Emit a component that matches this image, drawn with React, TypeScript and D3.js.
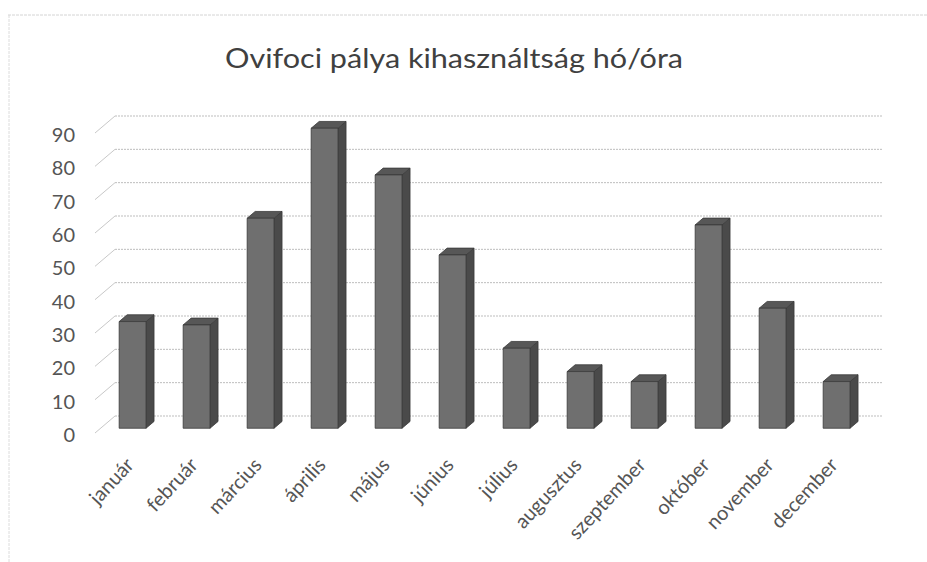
import React from "react";
import * as d3 from "d3";

const months = ["január", "február", "március", "április", "május", "június", "július", "augusztus", "szeptember", "október", "november", "december"];
const hours = [32, 31, 63, 90, 76, 52, 24, 17, 14, 61, 36, 14];
const yTicks = [0, 10, 20, 30, 40, 50, 60, 70, 80, 90];
const title = "Ovifoci pálya kihasználtság hó/óra";

const W = 927;
const H = 562;
const FONT = "Lato, 'Open Sans', sans-serif";

export default function App() {
  const x = d3.scaleBand<string>().domain(months).range([95, 863]).paddingInner(0.58).paddingOuter(0.29);
  const y = d3.scaleLinear().domain([0, 90]).range([433, 133]);
  const depth = { dx: 20, dy: -17 };
  const f1 = 0.28;
  const f2 = 0.68;

  const bars = months.map((m, i) => {
    const v = hours[i];
    const x0 = (x(m) as number) + depth.dx * f1;
    const x1 = x0 + x.bandwidth();
    const yb = y(0) + depth.dy * f1;
    const yt = y(v) + depth.dy * f1;
    const ddx = depth.dx * (f2 - f1);
    const ddy = depth.dy * (f2 - f1);
    const front = `M${x0},${yt}L${x1},${yt}L${x1},${yb}L${x0},${yb}Z`;
    const side = `M${x1},${yt}L${x1 + ddx},${yt + ddy}L${x1 + ddx},${yb + ddy}L${x1},${yb}Z`;
    const top = `M${x0},${yt}L${x0 + ddx},${yt + ddy}L${x1 + ddx},${yt + ddy}L${x1},${yt}Z`;
    return { m, front, side, top };
  });

  return (
    <svg width={W} height={H} style={{ position: "absolute", left: 0, top: 0, background: "#fff" }}>
      <rect x={0} y={0} width={W} height={H} fill="#fff" />
      <line x1={8} y1={15} x2={927} y2={15} stroke="#d4d4d4" strokeWidth={1} strokeDasharray="3,1" />
      <line x1={9} y1={15} x2={9} y2={562} stroke="#dcdcdc" strokeWidth={1} strokeDasharray="3,1" />
      <text x={454} y={68} textAnchor="middle" fontFamily={FONT} fontSize={26} fill="#404040" textLength={458} lengthAdjust="spacingAndGlyphs">{title}</text>
      {yTicks.map((t) => (
        <g key={t}>
          <line x1={95} y1={y(t)} x2={95 + depth.dx} y2={y(t) + depth.dy} stroke="#c8c8c8" strokeWidth={1} />
          <line x1={95 + depth.dx} y1={y(t) + depth.dy} x2={863 + depth.dx} y2={y(t) + depth.dy} stroke="#bdbdbd" strokeWidth={1} strokeDasharray="2,1" />
          <text x={75} y={y(t) + 1} textAnchor="end" dominantBaseline="central" fontFamily={FONT} fontSize={20} fill="#555">{t}</text>
        </g>
      ))}
      {bars.map((b) => (
        <g key={b.m} stroke="#3a3a3a" strokeWidth={0.8} strokeLinejoin="round">
          <path d={b.side} fill="#4a4a4a" />
          <path d={b.top} fill="#575757" />
          <path d={b.front} fill="#6f6f6f" />
        </g>
      ))}
      {months.map((m) => {
        const cx = (x(m) as number) + x.bandwidth() / 2 + 8;
        const cy = 466;
        return (
          <text key={m} x={cx} y={cy} textAnchor="end" transform={`rotate(-47 ${cx} ${cy})`} fontFamily={FONT} fontSize={20} fill="#555">{m}</text>
        );
      })}
    </svg>
  );
}
